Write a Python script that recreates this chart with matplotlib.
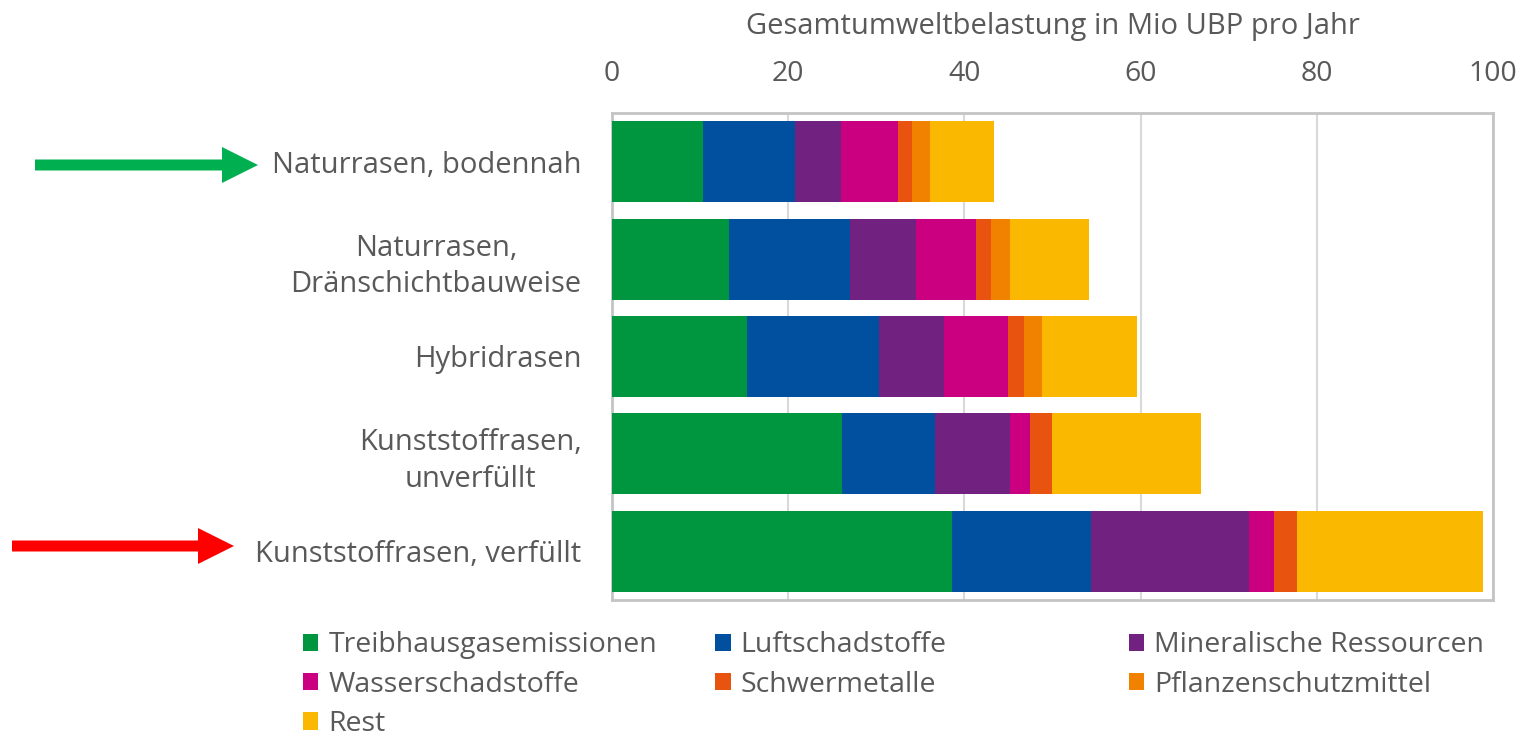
import matplotlib.pyplot as plt
from matplotlib.patches import FancyArrow
import numpy as np

plt.rcParams['font.family'] = ['Open Sans', 'DejaVu Sans']

# Daten (Mio UBP pro Jahr)
categories = ['Naturrasen, bodennah', 'Naturrasen,\nDränschichtbauweise', 'Hybridrasen',
              'Kunststoffrasen,\nunverfüllt', 'Kunststoffrasen, verfüllt']
treibhausgas = [10.3, 13.3, 15.3, 26.1, 38.6]
luftschadstoffe = [10.5, 13.7, 15.0, 10.6, 15.8]
mineralisch = [5.2, 7.5, 7.4, 8.5, 17.9]
wasserschadstoffe = [6.5, 6.8, 7.2, 2.2, 2.8]
schwermetalle = [1.5, 1.7, 1.9, 2.5, 2.6]
pflanzenschutz = [2.1, 2.2, 2.0, 0.0, 0.0]
rest = [7.3, 8.9, 10.8, 17.0, 21.2]

series = [treibhausgas, luftschadstoffe, mineralisch, wasserschadstoffe,
          schwermetalle, pflanzenschutz, rest]
labels = ['Treibhausgasemissionen', 'Luftschadstoffe', 'Mineralische Ressourcen',
          'Wasserschadstoffe', 'Schwermetalle', 'Pflanzenschutzmittel', 'Rest']
colors = ['#00953F', '#00509F', '#712281', '#CA0080', '#E8530F', '#F08200', '#FAB900']

txt = '#595959'

fig = plt.figure(figsize=(15.21, 7.41), dpi=100)
ax = fig.add_axes([0.4024, 0.1903, 0.5792, 0.6572])

y = np.arange(len(categories))
left = np.zeros(len(categories))
bars = []
for vals, lab, col in zip(series, labels, colors):
    b = ax.barh(y, vals, left=left, height=0.83, color=col, label=lab, zorder=3)
    bars.append(b)
    left += np.array(vals)

ax.set_xlim(0, 100)
ax.set_ylim(4.5, -0.5)
ax.set_xticks(np.arange(0, 101, 20))
ax.xaxis.tick_top()
ax.xaxis.set_label_position('top')
ax.set_xlabel('Gesamtumweltbelastung in Mio UBP pro Jahr', fontsize=21, color=txt, labelpad=19)
ax.tick_params(axis='x', length=0, labelsize=20.5, labelcolor=txt, pad=18)
ax.tick_params(axis='y', length=0, labelsize=21, labelcolor=txt, pad=22)
ax.set_yticks(y)
ax.set_yticklabels(categories, multialignment='center', linespacing=1.35)
ax.grid(axis='x', color='#D9D9D9', linewidth=1.5, zorder=0)
for s in ax.spines.values():
    s.set_color('#C4C4C4')
    s.set_linewidth(2)

# Legende (zeilenweise wie im Original, drei Spalten)
col_x = [0.199, 0.470, 0.742]
cols = [[0, 3, 6], [1, 4], [2, 5]]
for cx, idx in zip(col_x, cols):
    leg = fig.legend([bars[i] for i in idx], [labels[i] for i in idx],
                     loc='upper left', bbox_to_anchor=(cx, 0.148), frameon=False,
                     fontsize=20.5, handlelength=0.55, handleheight=0.55,
                     handletextpad=0.35, labelspacing=0.4, borderaxespad=0, borderpad=0)
    for t in leg.get_texts():
        t.set_color(txt)

# Pfeile
over = fig.add_axes([0, 0, 1, 1])
over.set_xlim(0, 1521)
over.set_ylim(741, 0)
over.axis('off')
over.add_patch(FancyArrow(35, 165, 223, 0, width=11, head_width=36, head_length=36,
                          length_includes_head=True, color='#00B050', lw=0))
over.add_patch(FancyArrow(12, 546, 222, 0, width=11, head_width=36, head_length=36,
                          length_includes_head=True, color='#FF0000', lw=0))

fig.savefig('out.png', dpi=100)
